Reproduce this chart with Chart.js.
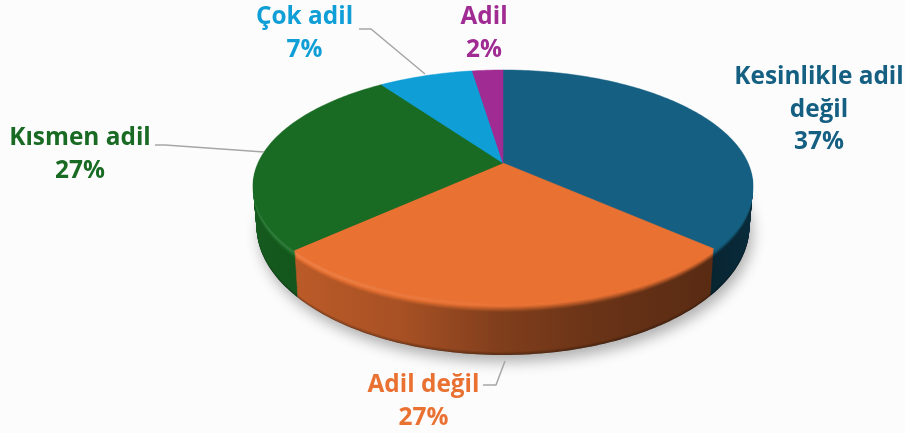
<!DOCTYPE html>
<html><head><meta charset="utf-8">
<style>html,body{margin:0;padding:0;background:#fcfcfc}canvas{display:block}</style>
<script src="https://cdn.jsdelivr.net/npm/chart.js@4"></script>
</head><body>
<canvas id="c" width="905" height="433"></canvas>
<script>
const categories = ["Kesinlikle adil değil","Adil değil","Kısmen adil","Çok adil","Adil"];
const shares = [36.6,26.6,27.0,7.4,2.4];
const colors = ["#156082","#E97132","#196B24","#0F9ED5","#A02B93"];
const labelLines = [["Kesinlikle adil","değil"],["Adil değil"],["Kısmen adil"],["Çok adil"],["Adil"]];
const labelAnchors = [[819,84],[423.5,392],[80,145],[304.5,24],[484,24]];
const leaderLines = [null,[[483,385],[496,385],[505,361]],[[155,145],[165,145],[264,152]],[[359,29],[371,29],[425,74]],null];

const K=0.2, TOP={x:503,y:163,a:245,b:111.6}, BOT={x:503,y:200.5,a:241.5,b:123.6};
const LAYERS=50, SHADE_X=[254,300,400,500,600,710,752], SHADE_F=[0.84,0.8,0.72,0.55,0.45,0.38,0.45];
const proj=(g,t)=>{const X=Math.cos(t),Y=Math.sin(t),w=1-K*Y;return [g.x+g.a*X/w,g.y+g.b*Y/w];};
const rgb=h=>[1,3,5].map(i=>parseInt(h.substr(i,2),16));
const mix=(c,f)=>{const v=rgb(c).map(n=>f<=1?n*f:n+(255-n)*(f-1));return `rgb(${v.map(Math.round).join(',')})`;};
const shade=(x,f,s)=>{
  const hi=x<560?1+0.14*(560-x)/300:1;
  if(s<0.07) return 1+(hi-1)*s/0.07;
  if(s<0.19) return hi+(f-hi)*(s-0.07)/0.12;
  if(s>0.94) return f*(1-0.28*(s-0.94)/0.06);
  return f;
};
const sector=(ctx,g,a)=>{
  const T=Math.PI/180;ctx.beginPath();ctx.moveTo(g.x,g.y);
  for(let t=a.startAngle;t<a.endAngle;t+=T){const p=proj(g,t);ctx.lineTo(p[0],p[1]);}
  const p=proj(g,a.endAngle);ctx.lineTo(p[0],p[1]);ctx.closePath();
};
const pie3d={id:'pie3d',
 beforeDatasetDraw(chart,args){
  const ctx=chart.ctx,arcs=chart.getDatasetMeta(args.index).data;
  ctx.save();ctx.shadowColor='rgba(0,0,0,0.3)';ctx.shadowBlur=14;ctx.shadowOffsetY=7;ctx.shadowOffsetX=3;
  ctx.fillStyle='#777';ctx.beginPath();
  for(let t=0;t<Math.PI*2;t+=0.02){const p=proj(BOT,t);ctx.lineTo(p[0],p[1]);}
  ctx.closePath();ctx.fill();ctx.restore();
  for(let l=LAYERS;l>=1;l--){
   const s=l/LAYERS,g={x:TOP.x,y:TOP.y+(BOT.y-TOP.y)*s,a:TOP.a+(BOT.a-TOP.a)*s,b:TOP.b+(BOT.b-TOP.b)*s};
   arcs.forEach((a,i)=>{
    const gr=ctx.createLinearGradient(SHADE_X[0],0,SHADE_X[6],0);
    SHADE_X.forEach((x,j)=>gr.addColorStop((x-SHADE_X[0])/(SHADE_X[6]-SHADE_X[0]),mix(colors[i],shade(x,SHADE_F[j],s))));
    ctx.fillStyle=gr;sector(ctx,g,a);ctx.fill();
   });
  }
  arcs.forEach((a,i)=>{
   ctx.fillStyle=colors[i];ctx.strokeStyle=colors[i];ctx.lineWidth=0.5;sector(ctx,TOP,a);ctx.fill();ctx.stroke();
  });
  return false;
 },
 afterDraw(chart){
  const ctx=chart.ctx;
  ctx.save();
  ctx.strokeStyle='#a6a6a6';ctx.lineWidth=1.5;
  leaderLines.forEach(l=>{if(!l)return;ctx.beginPath();l.forEach((p,i)=>i?ctx.lineTo(p[0],p[1]):ctx.moveTo(p[0],p[1]));ctx.stroke();});
  ctx.font='700 24.4px "Open Sans"';ctx.textAlign='center';ctx.textBaseline='alphabetic';
  categories.forEach((_,i)=>{
   const [x,y]=labelAnchors[i];ctx.fillStyle=colors[i];
   const lines=[...labelLines[i],Math.round(shares[i])+'%'];
   lines.forEach((s,j)=>ctx.fillText(s,x,y+j*32.7));
  });
  ctx.restore();
 }
};
new Chart(document.getElementById('c'),{
 type:'pie',
 data:{labels:categories,datasets:[{data:shares,backgroundColor:colors,borderWidth:0}]},
 plugins:[pie3d],
 options:{responsive:false,animation:false,plugins:{legend:{display:false},tooltip:{enabled:false}}}
});
</script>
</body></html>
